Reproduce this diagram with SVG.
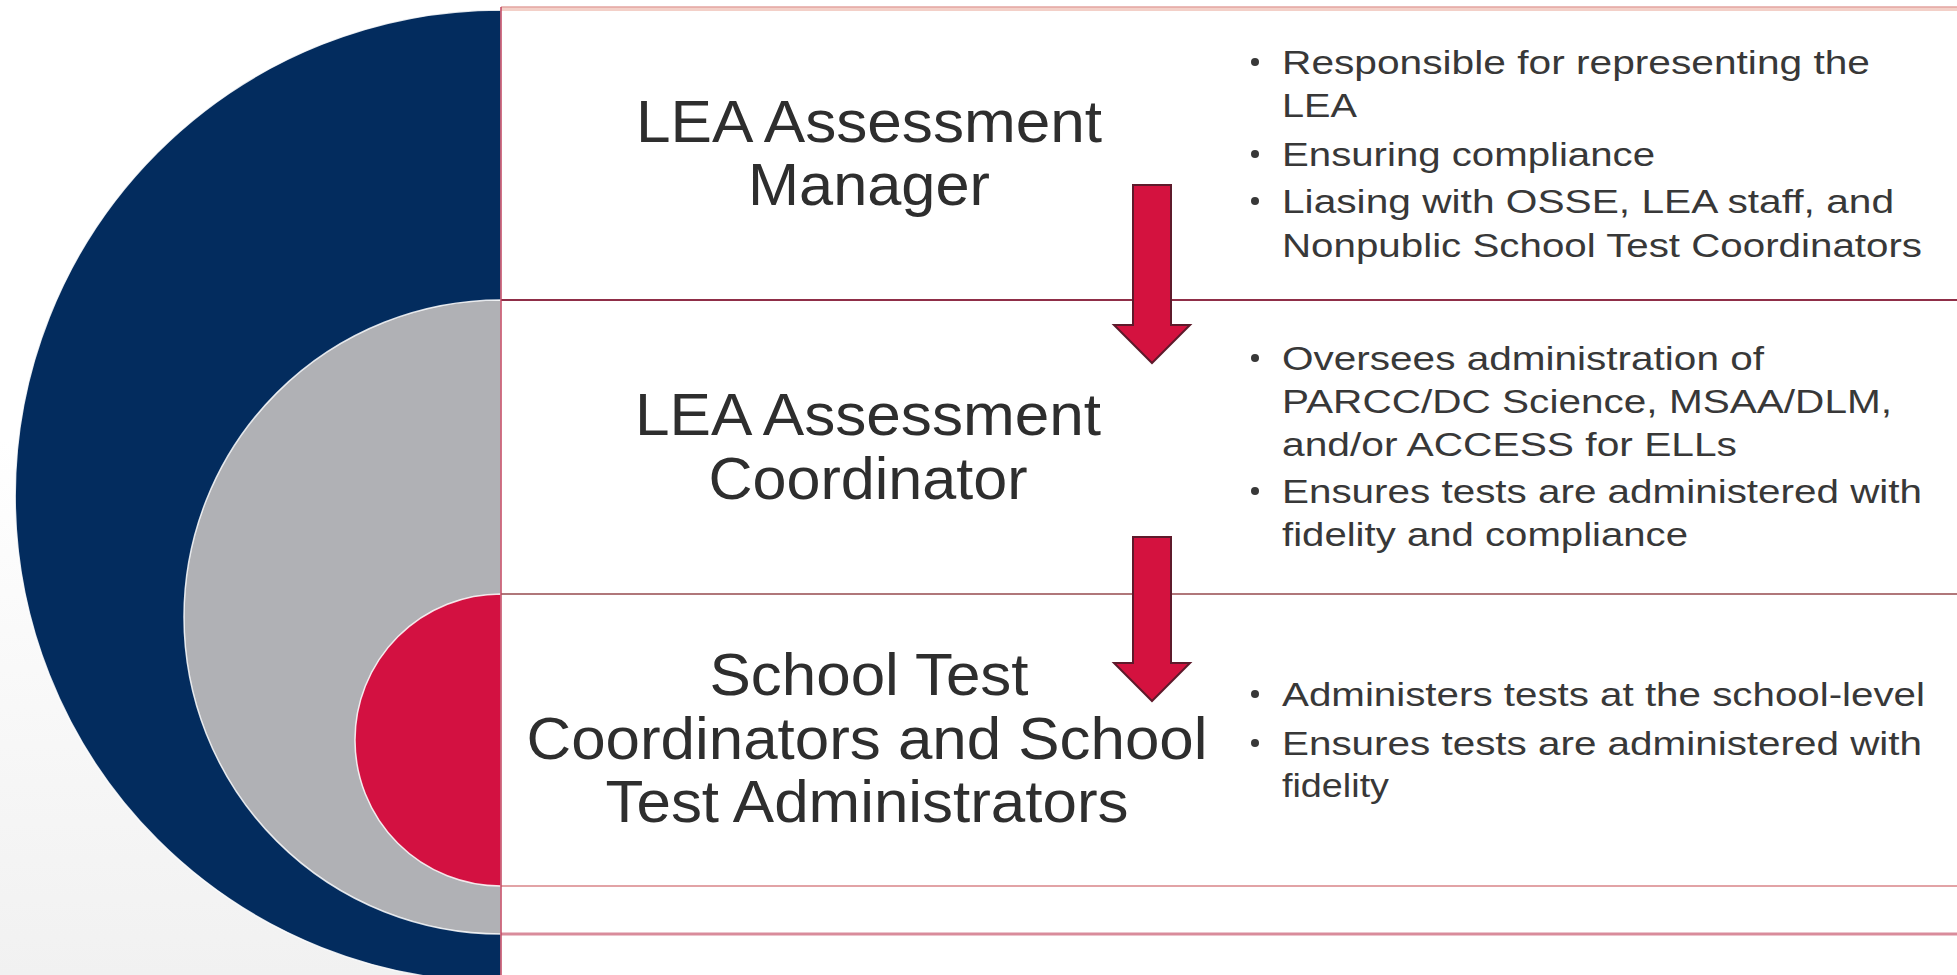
<svg xmlns="http://www.w3.org/2000/svg" width="1957" height="975" viewBox="0 0 1957 975">
  <defs>
    <linearGradient id="bgLeft" x1="0" y1="0" x2="0" y2="1">
      <stop offset="0" stop-color="#ffffff"/>
      <stop offset="0.45" stop-color="#ffffff"/>
      <stop offset="1" stop-color="#f1f1f1"/>
    </linearGradient>
    <style>
      .title { font-family: "Liberation Sans", Arial, sans-serif; font-size: 59px; fill: #2e2e2e; text-anchor: middle; }
      .bullet { font-family: "Liberation Sans", Arial, sans-serif; font-size: 33px; fill: #383838; }
      .dot { fill: #383838; }
      .ring { stroke: #ffffff; stroke-width: 1.5; stroke-opacity: 0.85; }
      .arrow { fill: #d4123f; stroke: #5e1a2b; stroke-width: 2; stroke-linejoin: miter; }
    </style>
  </defs>

  <!-- background -->
  <rect x="0" y="0" width="1957" height="975" fill="url(#bgLeft)"/>
  <rect x="501" y="0" width="1456" height="975" fill="#ffffff"/>

  <!-- concentric half circles -->
  <g id="rings">
    <path class="ring" d="M501,10 A486,486 0 0 0 501,982 Z" fill="#032c5e"/>
    <path class="ring" d="M501,300 A317,317 0 0 0 501,934 Z" fill="#b0b1b5"/>
    <path class="ring" d="M501,594 A146,146 0 0 0 501,886 Z" fill="#d31141"/>
  </g>

  <!-- table lines -->
  <g id="table-lines">
    <line x1="501" y1="9" x2="1957" y2="9" stroke="#f3d0c8" stroke-width="4"/>
    <line x1="501" y1="7" x2="1957" y2="7" stroke="#e3a4a0" stroke-width="1.5"/>
    <line x1="501" y1="300" x2="1957" y2="300" stroke="#8f2e47" stroke-width="2"/>
    <line x1="501" y1="594" x2="1957" y2="594" stroke="#b0777a" stroke-width="2"/>
    <line x1="501" y1="886" x2="1957" y2="886" stroke="#e2a3a6" stroke-width="2"/>
    <line x1="501" y1="934" x2="1957" y2="934" stroke="#d98c9b" stroke-width="3"/>
    <line x1="501" y1="7" x2="501" y2="975" stroke="#c2455f" stroke-width="1.5"/>
  </g>

  <g id="node-manager">
    <text class="title" x="869" y="142" textLength="466" lengthAdjust="spacingAndGlyphs">LEA Assessment</text>
    <text class="title" x="869" y="205" textLength="242" lengthAdjust="spacingAndGlyphs">Manager</text>
    <circle class="dot" cx="1255" cy="62" r="4"/>
    <text class="bullet" x="1282" y="74" textLength="588" lengthAdjust="spacingAndGlyphs">Responsible for representing the</text>
    <text class="bullet" x="1282" y="117" textLength="75" lengthAdjust="spacingAndGlyphs">LEA</text>
    <circle class="dot" cx="1255" cy="154" r="4"/>
    <text class="bullet" x="1282" y="166" textLength="373" lengthAdjust="spacingAndGlyphs">Ensuring compliance</text>
    <circle class="dot" cx="1255" cy="201" r="4"/>
    <text class="bullet" x="1282" y="213" textLength="612" lengthAdjust="spacingAndGlyphs">Liasing with OSSE, LEA staff, and</text>
    <text class="bullet" x="1282" y="257" textLength="640" lengthAdjust="spacingAndGlyphs">Nonpublic School Test Coordinators</text>
  </g>

  <g id="node-coordinator">
    <text class="title" x="868" y="435" textLength="466" lengthAdjust="spacingAndGlyphs">LEA Assessment</text>
    <text class="title" x="868" y="499" textLength="319" lengthAdjust="spacingAndGlyphs">Coordinator</text>
    <circle class="dot" cx="1255" cy="358" r="4"/>
    <text class="bullet" x="1282" y="370" textLength="482" lengthAdjust="spacingAndGlyphs">Oversees administration of</text>
    <text class="bullet" x="1282" y="413" textLength="610" lengthAdjust="spacingAndGlyphs">PARCC/DC Science, MSAA/DLM,</text>
    <text class="bullet" x="1282" y="456" textLength="455" lengthAdjust="spacingAndGlyphs">and/or ACCESS for ELLs</text>
    <circle class="dot" cx="1255" cy="491" r="4"/>
    <text class="bullet" x="1282" y="503" textLength="640" lengthAdjust="spacingAndGlyphs">Ensures tests are administered with</text>
    <text class="bullet" x="1282" y="546" textLength="406" lengthAdjust="spacingAndGlyphs">fidelity and compliance</text>
  </g>

  <g id="node-school">
    <text class="title" x="869" y="695" textLength="319" lengthAdjust="spacingAndGlyphs">School Test</text>
    <text class="title" x="867" y="759" textLength="681" lengthAdjust="spacingAndGlyphs">Coordinators and School</text>
    <text class="title" x="867" y="822" textLength="523" lengthAdjust="spacingAndGlyphs">Test Administrators</text>
    <circle class="dot" cx="1255" cy="694" r="4"/>
    <text class="bullet" x="1282" y="706" textLength="643" lengthAdjust="spacingAndGlyphs">Administers tests at the school-level</text>
    <circle class="dot" cx="1255" cy="743" r="4"/>
    <text class="bullet" x="1282" y="755" textLength="640" lengthAdjust="spacingAndGlyphs">Ensures tests are administered with</text>
    <text class="bullet" x="1282" y="797" textLength="107" lengthAdjust="spacingAndGlyphs">fidelity</text>
  </g>

  <g id="connectors">
    <path class="arrow" d="M1133,185 L1171,185 L1171,325 L1190,325 L1152,363 L1114,325 L1133,325 Z"/>
    <path class="arrow" d="M1133,537 L1171,537 L1171,663 L1190,663 L1152,701 L1114,663 L1133,663 Z"/>
  </g>
</svg>
